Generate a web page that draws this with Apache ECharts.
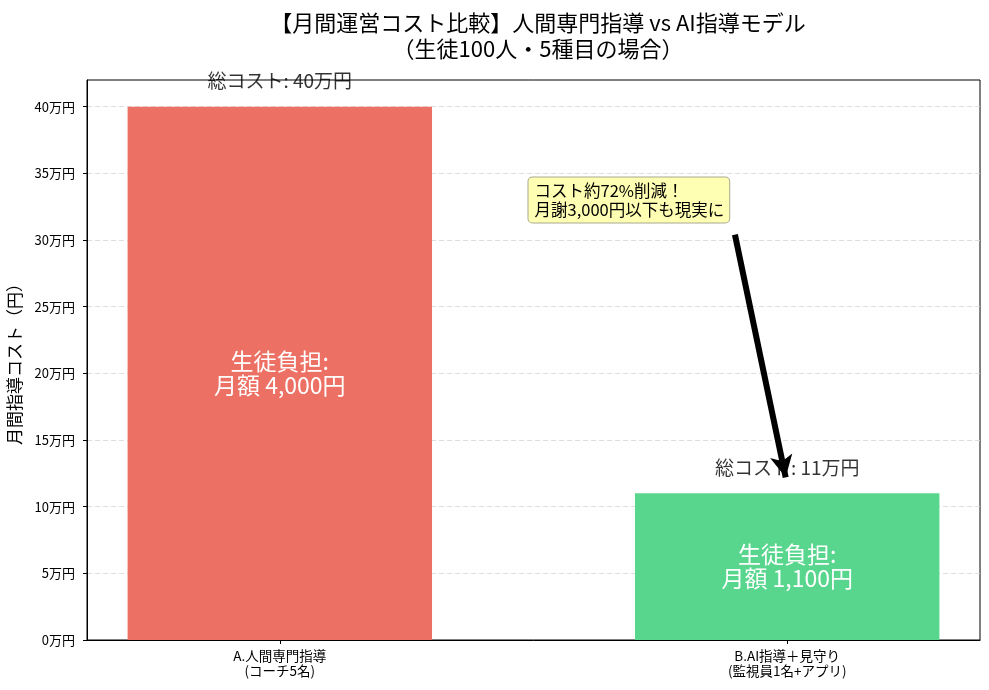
<!DOCTYPE html>
<html>
<head>
<meta charset="utf-8">
<script src="https://cdn.jsdelivr.net/npm/echarts@6/dist/echarts.min.js"></script>
<style>
  html, body { margin: 0; padding: 0; background: #fff; }
  #main { width: 989px; height: 690px; }
</style>
</head>
<body>
<div id="main"></div>
<script>
// データ
var categories = ['A.人間専門指導\n(コーチ5名)', 'B.AI指導＋見守り\n(監視員1名+アプリ)'];
var totalCost = [400000, 110000];
var studentFee = ['4,000', '1,100'];
var barColors = ['#EC7063', '#58D68D'];
var yTicks = [0, 50000, 100000, 150000, 200000, 250000, 300000, 350000, 400000];

var FONT = '"Noto Sans CJK JP", "Noto Sans", sans-serif';
var chart = echarts.init(document.getElementById('main'));

var gridLeft = 87, gridRight = 9;
var xMin = -0.38, xMax = 1.38;
var plotW = 989 - gridLeft - gridRight;
var barW = 0.6 / (xMax - xMin) * plotW;

var barData = totalCost.map(function (v, i) {
  return {
    value: [i, v],
    itemStyle: { color: barColors[i] },
    label: { formatter: '生徒負担:\n月額 ' + studentFee[i] + '円' }
  };
});
var topData = totalCost.map(function (v, i) {
  return { value: [i, v], label: { formatter: '総コスト: ' + (v / 10000) + '万円' } };
});

chart.setOption({
  animation: false,
  textStyle: { fontFamily: FONT },
  title: {
    text: '【月間運営コスト比較】人間専門指導 vs AI指導モデル\n（生徒100人・5種目の場合）',
    left: 533, top: 5, textAlign: 'center',
    textStyle: { fontFamily: FONT, fontSize: 22, fontWeight: 'normal', color: '#000', lineHeight: 26 }
  },
  grid: {
    left: gridLeft, right: gridRight, top: 80, bottom: 50,
    outerBoundsMode: 'none', containLabel: false,
    show: true, borderColor: '#000', borderWidth: 1
  },
  xAxis: {
    type: 'value', min: xMin, max: xMax,
    splitLine: { show: false },
    axisLine: { show: true, onZero: false, lineStyle: { color: '#000' } },
    axisTick: { show: true, customValues: [0, 1], length: 4, lineStyle: { color: '#000' } },
    axisLabel: {
      customValues: [0, 1], color: '#000', fontSize: 13.5, lineHeight: 15, margin: 8,
      formatter: function (v) { return categories[Math.round(v)]; }
    }
  },
  yAxis: {
    type: 'value', min: 0, max: 420000, interval: 50000,
    name: '月間指導コスト（円）', nameLocation: 'middle', nameGap: 64, nameRotate: 90,
    nameTextStyle: { fontFamily: FONT, fontSize: 17, color: '#000' },
    axisLine: { show: true, onZero: false, lineStyle: { color: '#000' } },
    axisTick: { show: true, length: 4, lineStyle: { color: '#000' } },
    axisLabel: {
      color: '#000', fontSize: 13, margin: 12, showMaxLabel: false,
      formatter: function (v) { return yTicks.indexOf(v) >= 0 ? (v / 10000) + '万円' : ''; }
    },
    splitLine: { show: true, showMinLine: false, showMaxLine: false, lineStyle: { color: '#d5d5d5', type: [5, 3], width: 0.8 } }
  },
  series: [
    {
      type: 'bar', barWidth: barW, data: barData, z: 2,
      label: {
        show: true, position: 'inside', color: '#fff', fontSize: 23, lineHeight: 24,
        fontFamily: FONT, align: 'center'
      },
      markPoint: {
        symbol: 'circle', symbolSize: 0, silent: true,
        data: [{
          coord: [0.5, 330000],
          label: {
            show: true, position: 'right', distance: -5,
            formatter: 'コスト約72%削減！\n月謝3,000円以下も現実に',
            color: '#000', fontSize: 16.5, lineHeight: 19, fontFamily: FONT,
            backgroundColor: '#FFFFB3', borderColor: '#A8A890', borderWidth: 1,
            borderRadius: 4, padding: [4, 5, 3, 6]
          }
        }]
      },
      markLine: {
        silent: true, symbol: ['none', 'arrow'], symbolSize: [17, 22],
        lineStyle: { color: '#000', width: 6, type: 'solid' },
        label: { show: false },
        data: [[{ coord: [0.897, 304000] }, { coord: [0.997, 122000] }]]
      }
    },
    {
      type: 'scatter', symbolSize: 0, data: topData, z: 3, silent: true,
      label: { show: true, position: 'top', distance: 16, color: '#000', fontSize: 19, fontFamily: FONT }
    }
  ]
});
window.onresize = chart.resize;
</script>
</body>
</html>
